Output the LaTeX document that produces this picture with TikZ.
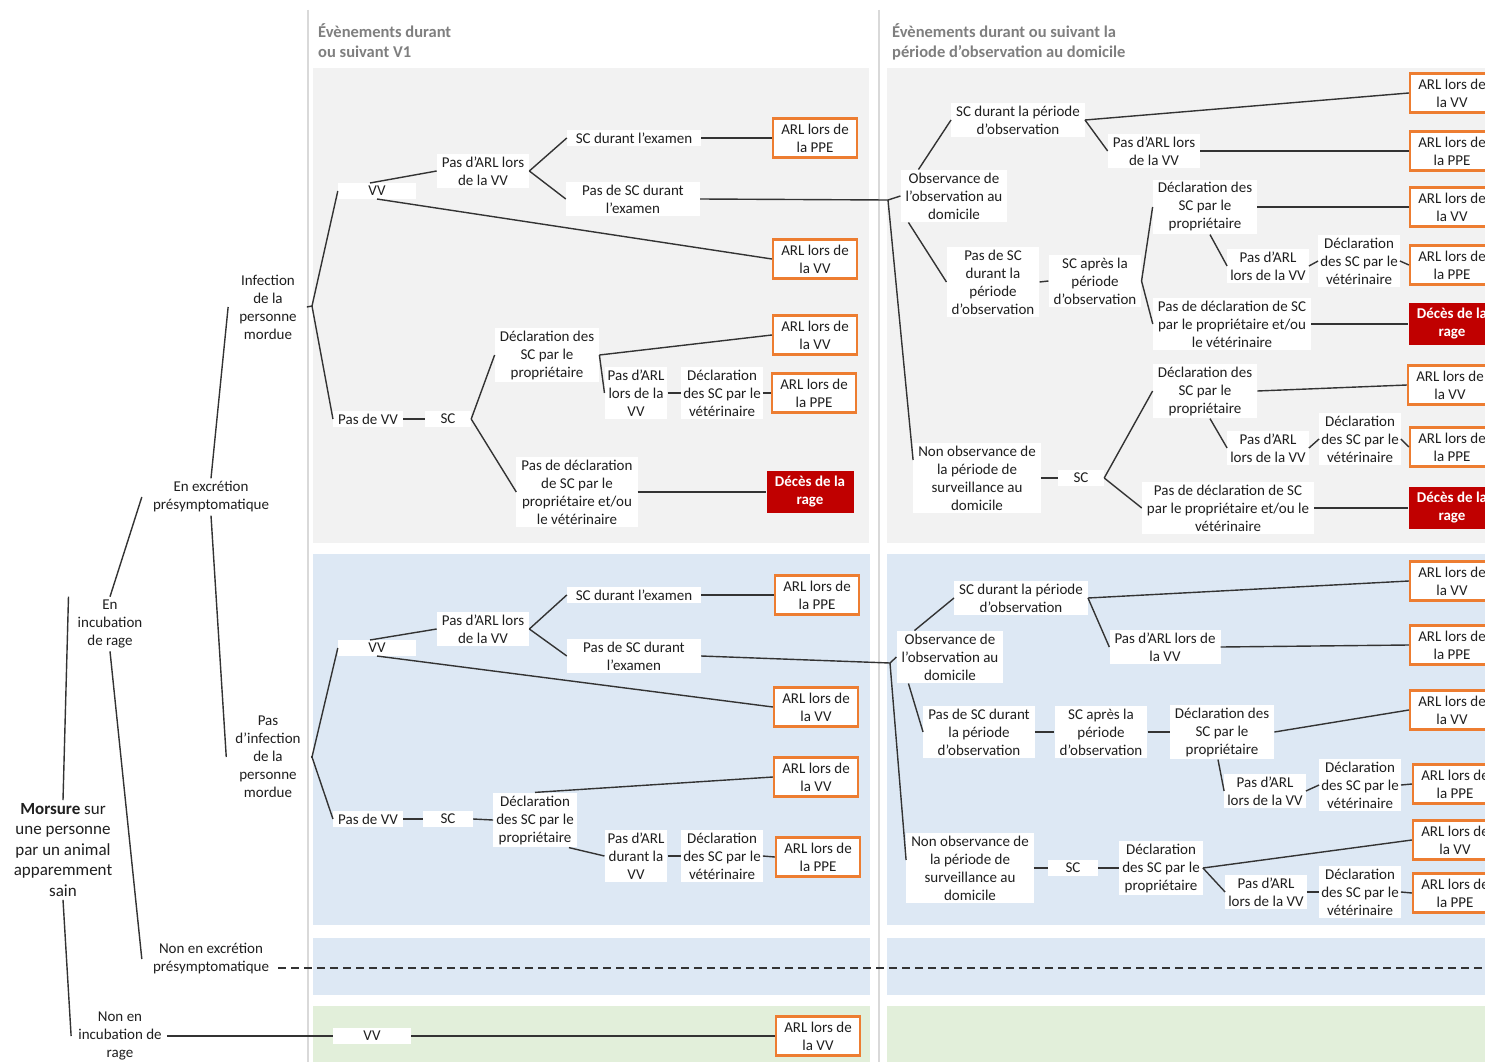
\documentclass[tikz,border=0pt]{standalone}
\usepackage{fontspec}
\setmainfont{Carlito}
\usetikzlibrary{calc}
\definecolor{orangeC}{HTML}{ED7D31}
\definecolor{redC}{HTML}{C00000}
\definecolor{grayP}{HTML}{F2F2F2}
\definecolor{blueP}{HTML}{DDE8F4}
\definecolor{greenP}{HTML}{E2EFDA}
\definecolor{sepC}{HTML}{D9D9D9}
\definecolor{headC}{HTML}{7F7F7F}
\definecolor{lineC}{HTML}{333333}
\definecolor{txtC}{HTML}{1F1F1F}
\begin{document}
\begin{tikzpicture}[x=1pt,y=-1pt,
 base/.style={font=\fontsize{15}{18}\selectfont, align=center, text=txtC, inner xsep=5pt, inner ysep=3pt},
 lbl/.style={base},
 wbox/.style={base, fill=white},
 arl/.style={base, fill=white, draw=orangeC, line width=2.2pt, minimum width=84pt, minimum height=39pt, inner xsep=2pt},
 death/.style={base, fill=redC, text=white, font=\fontsize{15}{18}\selectfont\bfseries, minimum width=87pt, minimum height=42pt},
 con/.style={draw=lineC, line width=1.4pt},
 head/.style={anchor=base west, font=\fontsize{16.5}{20}\selectfont\bfseries, text=headC, align=left, inner sep=0pt}]
\useasboundingbox (0,0) rectangle (1485,1062);
\clip (0,0) rectangle (1485,1062);
\fill[white] (0,0) rectangle (1485,1062);
% panels
\fill[grayP] (313,68) rectangle (869,543);
\fill[grayP] (887,68) rectangle (1490,543);
\fill[blueP] (313,554) rectangle (870,925);
\fill[blueP] (887,554) rectangle (1490,925);
\fill[blueP] (313,938) rectangle (870,995);
\fill[blueP] (887,938) rectangle (1490,995);
\fill[greenP] (313,1006) rectangle (870,1070);
\fill[greenP] (887,1006) rectangle (1490,1070);
\draw[sepC, line width=2pt] (308,10) -- (308,1070);
\draw[sepC, line width=2pt] (879,10) -- (879,1070);
% headers
\node[head] (h1) at (318,58) {Évènements durant\\ou suivant V1};
\node[head] (h2) at (892,58) {Évènements durant ou suivant la\\période d’observation au domicile};
% left tree
\node[lbl, font=\fontsize{17}{20.5}\selectfont] (mor) at (63,850) {\textbf{Morsure} sur\\une personne\\par un animal\\apparemment\\sain};
\node[lbl] (inc) at (110,624) {En\\incubation\\de rage};
\node[lbl] (ninc) at (120,1036) {Non en\\incubation de\\rage};
\node[lbl] (exc) at (211,497) {En excrétion\\présymptomatique};
\node[lbl] (nexc) at (211,959) {Non en excrétion\\présymptomatique};
\node[lbl] (inf) at (268,307) {Infection\\de la\\personne\\mordue};
\node[lbl] (ninf) at (268,757) {Pas\\d’infection\\de la\\personne\\mordue};
% panel A
\node[wbox, minimum width=78pt] (avv) at (377,191) {VV};
\node[wbox] (apa) at (483,171) {Pas d’ARL lors\\de la VV};
\node[wbox, minimum width=134pt] (asc) at (634,138) {SC durant l’examen};
\node[wbox, minimum width=134pt] (ansc) at (633,199) {Pas de SC durant\\l’examen};
\node[arl] (appe1) at (815,138) {ARL lors de\\la PPE};
\node[arl] (avv1) at (815,259) {ARL lors de\\la VV};
\node[wbox] (anvv) at (368,419) {Pas de VV};
\node[wbox, minimum width=46pt] (asc2) at (448,419) {SC};
\node[wbox] (adp) at (547,355) {Déclaration des\\SC par le\\propriétaire};
\node[arl] (avv2) at (815,335) {ARL lors de\\la VV};
\node[wbox, inner xsep=3pt] (apa2) at (636,393) {Pas d’ARL\\lors de la\\VV};
\node[wbox, inner xsep=2pt] (adv) at (722,393) {Déclaration\\des SC par le\\vétérinaire};
\node[arl] (appe2) at (814,393) {ARL lors de\\la PPE};
\node[wbox] (and) at (577,492) {Pas de déclaration\\de SC par le\\propriétaire et/ou\\le vétérinaire};
\node[death] (adec) at (810,492) {Décès de la\\rage};
% panel B
\node[wbox] (bobs) at (954,196) {Observance de\\l’observation au\\domicile};
\node[wbox] (bscd) at (1018,120) {SC durant la période\\d’observation};
\node[arl] (bvv1) at (1452,93) {ARL lors de\\la VV};
\node[wbox] (bpa1) at (1154,151) {Pas d’ARL lors\\de la VV};
\node[arl] (bppe1) at (1452,151) {ARL lors de\\la PPE};
\node[wbox] (bnsc) at (993,282) {Pas de SC\\durant la\\période\\d’observation};
\node[wbox] (bsca) at (1095,281) {SC après la\\période\\d’observation};
\node[wbox] (bdp) at (1205,207) {Déclaration des\\SC par le\\propriétaire};
\node[arl] (bvv2) at (1452,207) {ARL lors de\\la VV};
\node[wbox, inner xsep=3pt] (bpa2) at (1268,266) {Pas d’ARL\\lors de la VV};
\node[wbox, inner xsep=2pt] (bdv) at (1359,261) {Déclaration\\des SC par le\\vétérinaire};
\node[arl] (bppe2) at (1452,265) {ARL lors de\\la PPE};
\node[wbox] (bnd) at (1232,324) {Pas de déclaration de SC\\par le propriétaire et/ou\\le vétérinaire};
\node[death] (bdec) at (1452,324) {Décès de la\\rage};
\node[wbox] (bnobs) at (977,478) {Non observance de\\la période de\\surveillance au\\domicile};
\node[wbox, minimum width=46pt] (bsc) at (1081,478) {SC};
\node[wbox] (bdp2) at (1205,391) {Déclaration des\\SC par le\\propriétaire};
\node[arl] (bvv3) at (1450,385) {ARL lors de\\la VV};
\node[wbox, inner xsep=3pt] (bpa3) at (1268,448) {Pas d’ARL\\lors de la VV};
\node[wbox, inner xsep=2pt] (bdv2) at (1360,439) {Déclaration\\des SC par le\\vétérinaire};
\node[arl] (bppe3) at (1452,447) {ARL lors de\\la PPE};
\node[wbox] (bnd2) at (1228,508) {Pas de déclaration de SC\\par le propriétaire et/ou le\\vétérinaire};
\node[death] (bdec2) at (1452,508) {Décès de la\\rage};
% panel C
\node[wbox, minimum width=78pt] (cvv) at (377,648) {VV};
\node[wbox] (cpa) at (483,629) {Pas d’ARL lors\\de la VV};
\node[wbox, minimum width=134pt] (csc) at (634,595) {SC durant l’examen};
\node[wbox, minimum width=134pt] (cnsc) at (634,656) {Pas de SC durant\\l’examen};
\node[arl] (cppe1) at (817,595) {ARL lors de\\la PPE};
\node[arl] (cvv1) at (816,707) {ARL lors de\\la VV};
\node[wbox] (cnvv) at (368,819) {Pas de VV};
\node[wbox, minimum width=50pt] (csc2) at (448,819) {SC};
\node[wbox, inner xsep=3pt] (cdp) at (535,820) {Déclaration\\des SC par le\\propriétaire};
\node[arl] (cvv2) at (816,777) {ARL lors de\\la VV};
\node[wbox, inner xsep=3pt] (cpa2) at (636,856) {Pas d’ARL\\durant la\\VV};
\node[wbox, inner xsep=2pt] (cdv) at (722,856) {Déclaration\\des SC par le\\vétérinaire};
\node[arl] (cppe2) at (818,857) {ARL lors de\\la PPE};
% panel D
\node[wbox] (dobs) at (950,657) {Observance de\\l’observation au\\domicile};
\node[wbox] (dscd) at (1021,598) {SC durant la période\\d’observation};
\node[arl] (dvv1) at (1452,581) {ARL lors de\\la VV};
\node[wbox] (dpa1) at (1165,647) {Pas d’ARL lors de\\la VV};
\node[arl] (dppe1) at (1452,645) {ARL lors de\\la PPE};
\node[wbox] (dnsc) at (979,732) {Pas de SC durant\\la période\\d’observation};
\node[wbox] (dsca) at (1101,732) {SC après la\\période\\d’observation};
\node[wbox] (ddp) at (1222,732) {Déclaration des\\SC par le\\propriétaire};
\node[arl] (dvv2) at (1452,710) {ARL lors de\\la VV};
\node[wbox, inner xsep=3pt] (dpa2) at (1265,791) {Pas d’ARL\\lors de la VV};
\node[wbox, inner xsep=2pt] (ddv) at (1360,785) {Déclaration\\des SC par le\\vétérinaire};
\node[arl] (dppe2) at (1455,784) {ARL lors de\\la PPE};
\node[wbox] (dnobs) at (970,868) {Non observance de\\la période de\\surveillance au\\domicile};
\node[wbox, minimum width=50pt] (dsc) at (1073,868) {SC};
\node[wbox, inner xsep=3pt] (ddp2) at (1161,868) {Déclaration\\des SC par le\\propriétaire};
\node[arl] (dvv3) at (1455,840) {ARL lors de\\la VV};
\node[wbox, inner xsep=3pt] (dpa3) at (1266,892) {Pas d’ARL\\lors de la VV};
\node[wbox, inner xsep=2pt] (ddv2) at (1360,892) {Déclaration\\des SC par le\\vétérinaire};
\node[arl] (dppe3) at (1455,893) {ARL lors de\\la PPE};
% green
\node[wbox, minimum width=78pt] (evv) at (372,1036) {VV};
\node[arl] (evv1) at (818,1036) {ARL lors de\\la VV};
% junctions
\coordinate (jA) at (312,306);
\coordinate (jB) at (888,200);
\coordinate (jC) at (312,757);
\coordinate (jD) at (890,663);
\coordinate (dashend) at (1495,968);
% connectors left tree
\draw[con] (mor.north) -- ([xshift=-4pt]inc.north west);
\draw[con] (mor.south) -- ([xshift=-2pt]ninc.west);
\draw[con] (inc.north) -- ([xshift=-6pt]exc.west);
\draw[con] (inc.south) -- ([xshift=-6pt]nexc.west);
\draw[con] (exc.north) -- ([xshift=-6pt]inf.west);
\draw[con] (exc.south) -- ([xshift=-4pt]ninf.west);
\draw[con] (ninc.east) -- (evv.west);
\draw[con] (evv.east) -- (evv1.west);
\draw[con, dash pattern=on 8pt off 5pt] ([xshift=4pt,yshift=-9pt]nexc.east) -- (dashend);
% panel A
\draw[con] ([xshift=5pt]inf.east) -- (jA);
\draw[con] (jA) -- (avv.west);
\draw[con] (jA) -- (anvv.west);
\draw[con] ([xshift=-7pt]avv.north) -- (apa.west);
\draw[con] (avv.south) -- (avv1.west);
\draw[con] (apa.east) -- (asc.west);
\draw[con] (apa.east) -- (ansc.west);
\draw[con] (asc.east) -- (appe1.west);
\draw[con] (anvv.east) -- (asc2.west);
\draw[con] (asc2.east) -- (adp.west);
\draw[con] (asc2.east) -- (and.west);
\draw[con] (adp.east) -- (avv2.west);
\draw[con] (adp.east) -- (apa2.west);
\draw[con] (apa2.east) -- (adv.west);
\draw[con] (adv.east) -- (appe2.west);
\draw[con] (and.east) -- (adec.west);
% panel B
\draw[con] (ansc.east) -- (jB);
\draw[con] (jB) -- (bobs.west);
\draw[con] (jB) -- ([yshift=18pt]bnobs.west);
\draw[con] ([xshift=18pt]bobs.north west) -- (bscd.west);
\draw[con] (bscd.east) -- (bvv1.west);
\draw[con] (bscd.east) -- (bpa1.west);
\draw[con] (bpa1.east) -- (bppe1.west);
\draw[con] ([xshift=8pt]bobs.south west) -- (bnsc.west);
\draw[con] (bnsc.east) -- (bsca.west);
\draw[con] (bsca.east) -- (bdp.west);
\draw[con] (bsca.east) -- (bnd.west);
\draw[con] (bdp.east) -- (bvv2.west);
\draw[con] ([xshift=5pt]bdp.south) -- (bpa2.west);
\draw[con] (bpa2.east) -- (bdv.west);
\draw[con] (bdv.east) -- (bppe2.west);
\draw[con] (bnd.east) -- (bdec.west);
\draw[con] (bnobs.east) -- (bsc.west);
\draw[con] (bsc.east) -- (bdp2.west);
\draw[con] (bsc.east) -- (bnd2.west);
\draw[con] (bdp2.east) -- (bvv3.west);
\draw[con] ([xshift=5pt]bdp2.south) -- (bpa3.west);
\draw[con] (bpa3.east) -- (bdv2.west);
\draw[con] (bdv2.east) -- (bppe3.west);
\draw[con] (bnd2.east) -- (bdec2.west);
% panel C
\draw[con] ([xshift=5pt]ninf.east) -- (jC);
\draw[con] (jC) -- (cvv.west);
\draw[con] (jC) -- (cnvv.west);
\draw[con] ([xshift=-7pt]cvv.north) -- (cpa.west);
\draw[con] (cvv.south) -- (cvv1.west);
\draw[con] (cpa.east) -- (csc.west);
\draw[con] (cpa.east) -- (cnsc.west);
\draw[con] (csc.east) -- (cppe1.west);
\draw[con] (cnvv.east) -- (csc2.west);
\draw[con] (csc2.east) -- (cdp.west);
\draw[con] (cdp.north) -- (cvv2.west);
\draw[con] ([xshift=-8pt]cdp.south east) -- (cpa2.west);
\draw[con] (cpa2.east) -- (cdv.west);
\draw[con] (cdv.east) -- (cppe2.west);
% panel D
\draw[con] (cnsc.east) -- (jD);
\draw[con] (jD) -- (dobs.west);
\draw[con] (jD) -- ([yshift=8pt]dnobs.west);
\draw[con] ([xshift=18pt]dobs.north west) -- (dscd.west);
\draw[con] (dscd.east) -- (dvv1.west);
\draw[con] (dscd.east) -- (dpa1.west);
\draw[con] (dpa1.east) -- (dppe1.west);
\draw[con] ([xshift=12pt]dobs.south west) -- (dnsc.west);
\draw[con] (dnsc.east) -- (dsca.west);
\draw[con] (dsca.east) -- (ddp.west);
\draw[con] (ddp.east) -- (dvv2.west);
\draw[con] ([xshift=-4pt]ddp.south) -- (dpa2.west);
\draw[con] (dpa2.east) -- (ddv.west);
\draw[con] (ddv.east) -- (dppe2.west);
\draw[con] (dnobs.east) -- (dsc.west);
\draw[con] (dsc.east) -- (ddp2.west);
\draw[con] (ddp2.east) -- (dvv3.west);
\draw[con] (ddp2.east) -- (dpa3.west);
\draw[con] (dpa3.east) -- (ddv2.west);
\draw[con] (ddv2.east) -- (dppe3.west);
\end{tikzpicture}
\end{document}
